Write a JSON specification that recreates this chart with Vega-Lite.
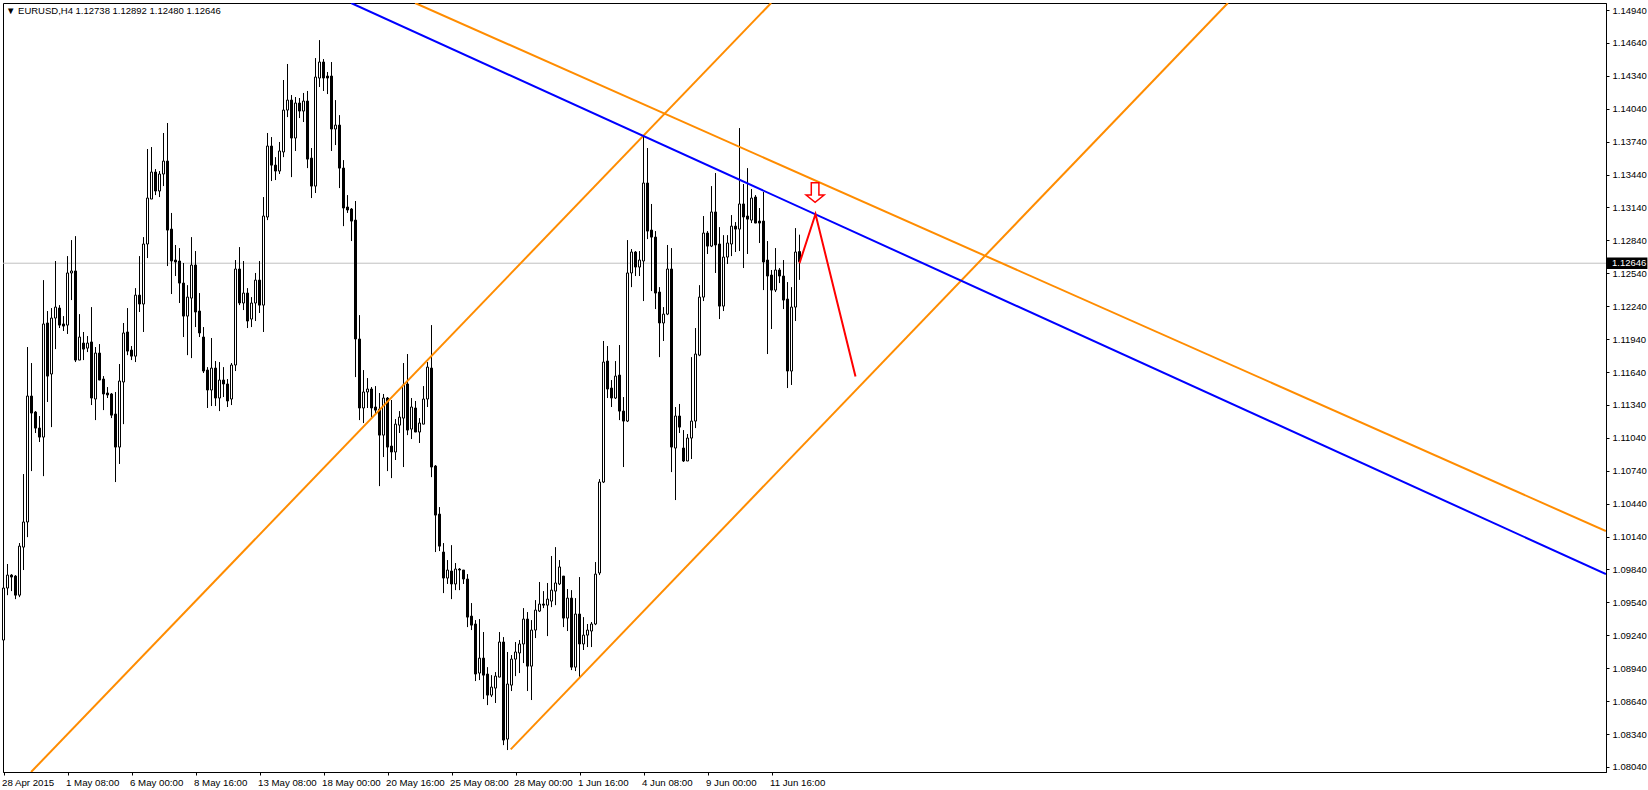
{"$schema":"https://vega.github.io/schema/vega-lite/v6.json","width":1603,"height":769,"autosize":{"type":"none"},"padding":{"left":3,"top":3,"right":42,"bottom":18},"background":"white","view":{"stroke":"black","strokeWidth":1,"fill":"white"},
"title":{"text":"▼ EURUSD,H4  1.12738 1.12892 1.12480 1.12646","anchor":"start","frame":"group","orient":"top","offset":-12,"dx":3,"font":"Liberation Sans","fontSize":9.5,"fontWeight":"normal","color":"black"},
"datasets":{
"candles":[
{"n":0,"o":1.09197,"h":1.09880,"l":1.09151,"c":1.09671},{"n":1,"o":1.09671,"h":1.09890,"l":1.09606,"c":1.09789},{"n":2,"o":1.09789,"h":1.09798,"l":1.09643,"c":1.09771},{"n":3,"o":1.09780,"h":1.09789,"l":1.09570,"c":1.09606},{"n":4,"o":1.09606,"h":1.10081,"l":1.09588,"c":1.10053},{"n":5,"o":1.10044,"h":1.10710,"l":1.09835,"c":1.10273},{"n":6,"o":1.10273,"h":1.11868,"l":1.10135,"c":1.11421},{"n":7,"o":1.11421,"h":1.11722,"l":1.10737,"c":1.11266},{"n":8,"o":1.11275,"h":1.11284,"l":1.11084,"c":1.11129},{"n":9,"o":1.11129,"h":1.11239,"l":1.11002,"c":1.11047},
{"n":10,"o":1.11047,"h":1.12478,"l":1.10691,"c":1.12078},{"n":11,"o":1.12087,"h":1.12196,"l":1.11367,"c":1.11603},{"n":12,"o":1.11622,"h":1.12223,"l":1.11138,"c":1.12132},{"n":13,"o":1.12132,"h":1.12652,"l":1.11849,"c":1.12232},{"n":14,"o":1.12223,"h":1.12250,"l":1.12041,"c":1.12068},{"n":15,"o":1.12078,"h":1.12150,"l":1.12014,"c":1.12059},{"n":16,"o":1.12068,"h":1.12697,"l":1.11987,"c":1.12543},{"n":17,"o":1.12543,"h":1.12843,"l":1.12296,"c":1.12561},{"n":18,"o":1.12561,"h":1.12879,"l":1.11731,"c":1.11749},{"n":19,"o":1.11749,"h":1.12168,"l":1.11749,"c":1.11959},
{"n":20,"o":1.11904,"h":1.12005,"l":1.11749,"c":1.11849},{"n":21,"o":1.11858,"h":1.11968,"l":1.11822,"c":1.11904},{"n":22,"o":1.11914,"h":1.12232,"l":1.11339,"c":1.11403},{"n":23,"o":1.11394,"h":1.11868,"l":1.11202,"c":1.11813},{"n":24,"o":1.11813,"h":1.11895,"l":1.11567,"c":1.11567},{"n":25,"o":1.11576,"h":1.11603,"l":1.11293,"c":1.11440},{"n":26,"o":1.11449,"h":1.11503,"l":1.11403,"c":1.11431},{"n":27,"o":1.11440,"h":1.11449,"l":1.11220,"c":1.11247},{"n":28,"o":1.11257,"h":1.11458,"l":1.10637,"c":1.10956},{"n":29,"o":1.10956,"h":1.11713,"l":1.10802,"c":1.11558},
{"n":30,"o":1.11549,"h":1.12087,"l":1.11165,"c":1.11996},{"n":31,"o":1.12005,"h":1.12223,"l":1.11794,"c":1.11831},{"n":32,"o":1.11840,"h":1.11877,"l":1.11749,"c":1.11785},{"n":33,"o":1.11785,"h":1.12405,"l":1.11731,"c":1.12341},{"n":34,"o":1.12341,"h":1.12697,"l":1.12187,"c":1.12260},{"n":35,"o":1.12260,"h":1.12870,"l":1.12005,"c":1.12807},{"n":36,"o":1.12807,"h":1.13673,"l":1.12679,"c":1.13226},{"n":37,"o":1.13217,"h":1.13691,"l":1.13217,"c":1.13463},{"n":38,"o":1.13463,"h":1.13490,"l":1.13253,"c":1.13290},{"n":39,"o":1.13290,"h":1.13472,"l":1.13235,"c":1.13445},
{"n":40,"o":1.13445,"h":1.13819,"l":1.13335,"c":1.13563},{"n":41,"o":1.13563,"h":1.13910,"l":1.12606,"c":1.12934},{"n":42,"o":1.12943,"h":1.13090,"l":1.12351,"c":1.12652},{"n":43,"o":1.12661,"h":1.12798,"l":1.12515,"c":1.12643},{"n":44,"o":1.12652,"h":1.12770,"l":1.12269,"c":1.12451},{"n":45,"o":1.12451,"h":1.12634,"l":1.11959,"c":1.12150},{"n":46,"o":1.12150,"h":1.12432,"l":1.11794,"c":1.12323},{"n":47,"o":1.12314,"h":1.12870,"l":1.11767,"c":1.12615},{"n":48,"o":1.12615,"h":1.12743,"l":1.12050,"c":1.12187},{"n":49,"o":1.12196,"h":1.12360,"l":1.11959,"c":1.11996},
{"n":50,"o":1.11959,"h":1.12050,"l":1.11631,"c":1.11649},{"n":51,"o":1.11658,"h":1.11685,"l":1.11312,"c":1.11476},{"n":52,"o":1.11476,"h":1.11950,"l":1.11330,"c":1.11676},{"n":53,"o":1.11676,"h":1.11740,"l":1.11330,"c":1.11403},{"n":54,"o":1.11403,"h":1.11731,"l":1.11284,"c":1.11567},{"n":55,"o":1.11567,"h":1.11685,"l":1.11412,"c":1.11531},{"n":56,"o":1.11531,"h":1.11576,"l":1.11321,"c":1.11376},{"n":57,"o":1.11394,"h":1.11722,"l":1.11339,"c":1.11704},{"n":58,"o":1.11704,"h":1.12661,"l":1.11649,"c":1.12579},{"n":59,"o":1.12579,"h":1.12779,"l":1.12250,"c":1.12269},
{"n":60,"o":1.12269,"h":1.12652,"l":1.12205,"c":1.12360},{"n":61,"o":1.12360,"h":1.12405,"l":1.12041,"c":1.12105},{"n":62,"o":1.12123,"h":1.12323,"l":1.12050,"c":1.12269},{"n":63,"o":1.12269,"h":1.12543,"l":1.12105,"c":1.12478},{"n":64,"o":1.12478,"h":1.12652,"l":1.12178,"c":1.12250},{"n":65,"o":1.12250,"h":1.13235,"l":1.12005,"c":1.13062},{"n":66,"o":1.13053,"h":1.13819,"l":1.13025,"c":1.13700},{"n":67,"o":1.13700,"h":1.13782,"l":1.13381,"c":1.13526},{"n":68,"o":1.13526,"h":1.13599,"l":1.13390,"c":1.13472},{"n":69,"o":1.13472,"h":1.13737,"l":1.13445,"c":1.13655},
{"n":70,"o":1.13646,"h":1.14302,"l":1.13599,"c":1.14028},{"n":71,"o":1.14028,"h":1.14448,"l":1.13964,"c":1.14119},{"n":72,"o":1.14119,"h":1.14165,"l":1.13417,"c":1.13773},{"n":73,"o":1.13773,"h":1.14147,"l":1.13655,"c":1.14092},{"n":74,"o":1.14092,"h":1.14138,"l":1.13955,"c":1.14019},{"n":75,"o":1.14019,"h":1.14184,"l":1.13919,"c":1.14110},{"n":76,"o":1.14110,"h":1.14202,"l":1.13499,"c":1.13581},{"n":77,"o":1.13590,"h":1.13682,"l":1.13226,"c":1.13335},{"n":78,"o":1.13335,"h":1.14502,"l":1.13272,"c":1.14329},{"n":79,"o":1.14320,"h":1.14666,"l":1.14238,"c":1.14466},
{"n":80,"o":1.14466,"h":1.14493,"l":1.14202,"c":1.14320},{"n":81,"o":1.14338,"h":1.14375,"l":1.14174,"c":1.14320},{"n":82,"o":1.14338,"h":1.14466,"l":1.13655,"c":1.13855},{"n":83,"o":1.13855,"h":1.14119,"l":1.13709,"c":1.13891},{"n":84,"o":1.13891,"h":1.13982,"l":1.13317,"c":1.13499},{"n":85,"o":1.13499,"h":1.13572,"l":1.12970,"c":1.13135},{"n":86,"o":1.13144,"h":1.13253,"l":1.13090,"c":1.13117},{"n":87,"o":1.13126,"h":1.13135,"l":1.12834,"c":1.13016},{"n":88,"o":1.13025,"h":1.13199,"l":1.11594,"c":1.11941},{"n":89,"o":1.11941,"h":1.12159,"l":1.11202,"c":1.11312},
{"n":90,"o":1.11312,"h":1.11658,"l":1.11175,"c":1.11458},{"n":91,"o":1.11458,"h":1.11585,"l":1.11312,"c":1.11485},{"n":92,"o":1.11485,"h":1.11503,"l":1.11229,"c":1.11312},{"n":93,"o":1.11321,"h":1.11512,"l":1.11266,"c":1.11293},{"n":94,"o":1.11302,"h":1.11449,"l":1.10600,"c":1.11065},{"n":95,"o":1.11065,"h":1.11440,"l":1.10865,"c":1.11403},{"n":96,"o":1.11403,"h":1.11412,"l":1.10737,"c":1.10956},{"n":97,"o":1.10965,"h":1.11385,"l":1.10673,"c":1.10911},{"n":98,"o":1.10911,"h":1.11211,"l":1.10838,"c":1.11165},{"n":99,"o":1.11156,"h":1.11284,"l":1.11084,"c":1.11229},
{"n":100,"o":1.11220,"h":1.11722,"l":1.10774,"c":1.11522},{"n":101,"o":1.11531,"h":1.11804,"l":1.11065,"c":1.11111},{"n":102,"o":1.11120,"h":1.11403,"l":1.11029,"c":1.11321},{"n":103,"o":1.11312,"h":1.11376,"l":1.11093,"c":1.11093},{"n":104,"o":1.11093,"h":1.11220,"l":1.10993,"c":1.11175},{"n":105,"o":1.11165,"h":1.11512,"l":1.11165,"c":1.11394},{"n":106,"o":1.11394,"h":1.11731,"l":1.11321,"c":1.11685},{"n":107,"o":1.11676,"h":1.12068,"l":1.10682,"c":1.10774},{"n":108,"o":1.10783,"h":1.10792,"l":1.09999,"c":1.10336},{"n":109,"o":1.10345,"h":1.10409,"l":1.10008,"c":1.10053},
{"n":110,"o":1.09999,"h":1.10081,"l":1.09625,"c":1.09762},{"n":111,"o":1.09762,"h":1.09926,"l":1.09708,"c":1.09835},{"n":112,"o":1.09826,"h":1.10062,"l":1.09570,"c":1.09708},{"n":113,"o":1.09708,"h":1.09899,"l":1.09652,"c":1.09844},{"n":114,"o":1.09844,"h":1.09853,"l":1.09652,"c":1.09835},{"n":115,"o":1.09835,"h":1.09835,"l":1.09708,"c":1.09753},{"n":116,"o":1.09753,"h":1.09798,"l":1.09315,"c":1.09406},{"n":117,"o":1.09415,"h":1.09534,"l":1.09288,"c":1.09333},{"n":118,"o":1.09343,"h":1.09379,"l":1.08823,"c":1.08887},{"n":119,"o":1.08896,"h":1.09388,"l":1.08832,"c":1.09032},
{"n":120,"o":1.09032,"h":1.09270,"l":1.08659,"c":1.08877},{"n":121,"o":1.08887,"h":1.08950,"l":1.08604,"c":1.08695},{"n":122,"o":1.08695,"h":1.08877,"l":1.08677,"c":1.08768},{"n":123,"o":1.08759,"h":1.08905,"l":1.08623,"c":1.08868},{"n":124,"o":1.08859,"h":1.09270,"l":1.08859,"c":1.09179},{"n":125,"o":1.09179,"h":1.09224,"l":1.08239,"c":1.08285},{"n":126,"o":1.08294,"h":1.09088,"l":1.08194,"c":1.08796},{"n":127,"o":1.08786,"h":1.09060,"l":1.08732,"c":1.09023},{"n":128,"o":1.09023,"h":1.09179,"l":1.08868,"c":1.09088},{"n":129,"o":1.09079,"h":1.09197,"l":1.08896,"c":1.09161},
{"n":130,"o":1.09161,"h":1.09488,"l":1.08987,"c":1.09388},{"n":131,"o":1.09388,"h":1.09452,"l":1.08732,"c":1.08959},{"n":132,"o":1.08959,"h":1.09379,"l":1.08650,"c":1.09288},{"n":133,"o":1.09288,"h":1.09561,"l":1.09215,"c":1.09470},{"n":134,"o":1.09461,"h":1.09726,"l":1.09452,"c":1.09525},{"n":135,"o":1.09525,"h":1.09643,"l":1.09488,"c":1.09515},{"n":136,"o":1.09515,"h":1.09717,"l":1.09233,"c":1.09570},{"n":137,"o":1.09552,"h":1.09963,"l":1.09497,"c":1.09652},{"n":138,"o":1.09643,"h":1.10044,"l":1.09515,"c":1.09717},{"n":139,"o":1.09708,"h":1.09926,"l":1.09698,"c":1.09863},
{"n":140,"o":1.09780,"h":1.09780,"l":1.09315,"c":1.09397},{"n":141,"o":1.09397,"h":1.09662,"l":1.09279,"c":1.09579},{"n":142,"o":1.09579,"h":1.09652,"l":1.08923,"c":1.08950},{"n":143,"o":1.08950,"h":1.09579,"l":1.08914,"c":1.09434},{"n":144,"o":1.09434,"h":1.09771,"l":1.08859,"c":1.09161},{"n":145,"o":1.09161,"h":1.09406,"l":1.09106,"c":1.09242},{"n":146,"o":1.09242,"h":1.09343,"l":1.09133,"c":1.09288},{"n":147,"o":1.09279,"h":1.09361,"l":1.09133,"c":1.09343},{"n":148,"o":1.09343,"h":1.09908,"l":1.09333,"c":1.09798},{"n":149,"o":1.09808,"h":1.10664,"l":1.09789,"c":1.10637},
{"n":150,"o":1.10637,"h":1.11923,"l":1.10628,"c":1.11731},{"n":151,"o":1.11740,"h":1.11877,"l":1.11403,"c":1.11485},{"n":152,"o":1.11494,"h":1.11567,"l":1.11321,"c":1.11403},{"n":153,"o":1.11403,"h":1.11740,"l":1.11394,"c":1.11603},{"n":154,"o":1.11612,"h":1.11886,"l":1.11202,"c":1.11284},{"n":155,"o":1.11284,"h":1.11412,"l":1.10774,"c":1.11193},{"n":156,"o":1.11193,"h":1.12843,"l":1.11184,"c":1.12543},{"n":157,"o":1.12543,"h":1.12761,"l":1.12414,"c":1.12734},{"n":158,"o":1.12734,"h":1.12743,"l":1.12515,"c":1.12597},{"n":159,"o":1.12597,"h":1.12743,"l":1.12515,"c":1.12661},
{"n":160,"o":1.12652,"h":1.13800,"l":1.12287,"c":1.13363},{"n":161,"o":1.13363,"h":1.13682,"l":1.12852,"c":1.12925},{"n":162,"o":1.12934,"h":1.13172,"l":1.12378,"c":1.12870},{"n":163,"o":1.12870,"h":1.12925,"l":1.12214,"c":1.12360},{"n":164,"o":1.12369,"h":1.12414,"l":1.11776,"c":1.12087},{"n":165,"o":1.12087,"h":1.12232,"l":1.11923,"c":1.12168},{"n":166,"o":1.12168,"h":1.12798,"l":1.12159,"c":1.12579},{"n":167,"o":1.12579,"h":1.12770,"l":1.10728,"c":1.10956},{"n":168,"o":1.10947,"h":1.11321,"l":1.10473,"c":1.11239},{"n":169,"o":1.11239,"h":1.11349,"l":1.11084,"c":1.11138},
{"n":170,"o":1.10947,"h":1.11111,"l":1.10820,"c":1.10829},{"n":171,"o":1.10829,"h":1.11075,"l":1.10829,"c":1.11038},{"n":172,"o":1.11038,"h":1.11776,"l":1.10847,"c":1.11193},{"n":173,"o":1.11193,"h":1.12041,"l":1.11129,"c":1.11804},{"n":174,"o":1.11794,"h":1.12432,"l":1.11785,"c":1.12323},{"n":175,"o":1.12323,"h":1.13062,"l":1.12287,"c":1.12907},{"n":176,"o":1.12907,"h":1.12925,"l":1.12716,"c":1.12788},{"n":177,"o":1.12788,"h":1.13335,"l":1.12779,"c":1.13099},{"n":178,"o":1.13099,"h":1.13454,"l":1.12543,"c":1.12798},{"n":179,"o":1.12807,"h":1.12961,"l":1.12123,"c":1.12241},
{"n":180,"o":1.12241,"h":1.12888,"l":1.12196,"c":1.12688},{"n":181,"o":1.12688,"h":1.12888,"l":1.12625,"c":1.12816},{"n":182,"o":1.12807,"h":1.13071,"l":1.12697,"c":1.12970},{"n":183,"o":1.12970,"h":1.13007,"l":1.12734,"c":1.12943},{"n":184,"o":1.12943,"h":1.13864,"l":1.12743,"c":1.13172},{"n":185,"o":1.13172,"h":1.13354,"l":1.12588,"c":1.13053},{"n":186,"o":1.13062,"h":1.13499,"l":1.12716,"c":1.13034},{"n":187,"o":1.13025,"h":1.13308,"l":1.12998,"c":1.13226},{"n":188,"o":1.13235,"h":1.13253,"l":1.12998,"c":1.12998},{"n":189,"o":1.13016,"h":1.13135,"l":1.12816,"c":1.12998},
{"n":190,"o":1.13016,"h":1.13281,"l":1.12387,"c":1.12643},{"n":191,"o":1.12661,"h":1.12834,"l":1.11804,"c":1.12515},{"n":192,"o":1.12524,"h":1.12570,"l":1.12032,"c":1.12387},{"n":193,"o":1.12387,"h":1.12770,"l":1.12369,"c":1.12570},{"n":194,"o":1.12570,"h":1.12588,"l":1.12451,"c":1.12515},{"n":195,"o":1.12515,"h":1.12661,"l":1.12214,"c":1.12296},{"n":196,"o":1.12305,"h":1.12460,"l":1.11494,"c":1.11649},{"n":197,"o":1.11649,"h":1.12414,"l":1.11522,"c":1.12232},{"n":198,"o":1.12232,"h":1.12952,"l":1.12105,"c":1.12734},{"n":199,"o":1.12738,"h":1.12892,"l":1.12480,"c":1.12646}
],
"lines":[
{"name":"channel upper","n":6.9,"price":1.07994},{"name":"channel upper","n":191.9,"price":1.15004},
{"name":"channel lower","n":126.8,"price":1.08200},{"name":"channel lower","n":306.1,"price":1.15004},
{"name":"trend blue","n":86.9,"price":1.15004},{"name":"trend blue","n":400.6,"price":1.09798},
{"name":"trend orange","n":102.9,"price":1.15004},{"name":"trend orange","n":400.6,"price":1.10190},
{"name":"forecast","n":199,"price":1.12632},{"name":"forecast","n":203,"price":1.13080},{"name":"forecast","n":213,"price":1.11599}
],
"last":[{"price":1.12632,"label":"1.12646"}],
"arrow":[{"n":202.9,"price":1.13281}]
},
"layer":[
{"data":{"name":"last"},"mark":{"type":"rule","color":"#c0c0c0","strokeWidth":1},
"encoding":{"y":{"field":"price","type":"quantitative","title":null,"scale":{"domain":[1.07994,1.15004],"nice":false,"zero":false},
"axis":{"orient":"right","values":[1.0804,1.0834,1.0864,1.0894,1.0924,1.0954,1.0984,1.1014,1.1044,1.1074,1.1104,1.1134,1.1164,1.1194,1.1224,1.1254,1.1284,1.1314,1.1344,1.1374,1.1404,1.1434,1.1464,1.1494],"tickCount":30,"format":".5f","title":null,"grid":false,"domain":true,"domainColor":"black","tickColor":"black","tickSize":3,"labelFont":"Liberation Sans","labelFontSize":9.5,"labelColor":"black","labelPadding":3,"labelOverlap":false,"labelBound":false,"labelFlush":false}}}},
{"data":{"name":"candles"},"mark":{"type":"rule","color":"black","strokeWidth":1},
"encoding":{"x":{"field":"n","type":"quantitative","title":null,"scale":{"domain":[-0.125,400.625],"nice":false,"zero":false,"padding":0},
"axis":{"orient":"bottom","values":[0,16,32,48,64,80,96,112,128,144,160,176,192],"tickCount":30,"labelExpr":"{'0':'28 Apr 2015','16':'1 May 08:00','32':'6 May 00:00','48':'8 May 16:00','64':'13 May 08:00','80':'18 May 00:00','96':'20 May 16:00','112':'25 May 08:00','128':'28 May 00:00','144':'1 Jun 16:00','160':'4 Jun 08:00','176':'9 Jun 00:00','192':'11 Jun 16:00'}[datum.value]","title":null,"grid":false,"domain":true,"domainColor":"black","tickColor":"black","tickSize":3,"labelFont":"Liberation Sans","labelFontSize":9.7,"labelColor":"black","labelAlign":"left","labelBaseline":"top","labelPadding":2,"labelOffset":-2,"labelOverlap":false,"labelBound":false,"labelFlush":false}},
"y":{"field":"l","type":"quantitative"},"y2":{"field":"h"}}},
{"data":{"name":"candles"},"mark":{"type":"bar","orient":"vertical","size":2,"stroke":"black","strokeWidth":1},
"encoding":{"x":{"field":"n","type":"quantitative"},"y":{"field":"o","type":"quantitative"},"y2":{"field":"c"},
"fill":{"condition":{"test":"datum.c>=datum.o","value":"white"},"value":"black"}}},
{"data":{"name":"lines"},"mark":{"type":"line","strokeWidth":2,"clip":true,"interpolate":"linear"},
"encoding":{"x":{"field":"n","type":"quantitative"},"y":{"field":"price","type":"quantitative"},
"color":{"field":"name","type":"nominal","legend":null,"scale":{"domain":["channel upper","channel lower","trend orange","trend blue","forecast"],"range":["#ff8c00","#ff8c00","#ff8c00","#0000ff","#ff0000"]}}}},
{"data":{"name":"arrow"},"mark":{"type":"point","shape":"M-0.38,-0.93L0.38,-0.93L0.38,0.3L0.9,0.3L0,1.03L-0.9,0.3L-0.38,0.3Z","size":400,"filled":false,"stroke":"#ff0000","strokeWidth":1.5,"opacity":1},
"encoding":{"x":{"field":"n","type":"quantitative"},"y":{"field":"price","type":"quantitative"}}},
{"data":{"name":"last"},"mark":{"type":"point","shape":"M0.17,-0.95L6.9,-0.95L6.9,0.95L0.17,0.95Z","size":144,"filled":true,"fill":"black","stroke":null,"opacity":1},
"encoding":{"x":{"datum":400.625,"type":"quantitative"},"y":{"field":"price","type":"quantitative"}}},
{"data":{"name":"last"},"mark":{"type":"text","color":"white","align":"left","baseline":"middle","xOffset":6,"font":"Liberation Sans","fontSize":9.5},
"encoding":{"x":{"datum":400.625,"type":"quantitative"},"y":{"field":"price","type":"quantitative"},"text":{"field":"label"}}}
]}
